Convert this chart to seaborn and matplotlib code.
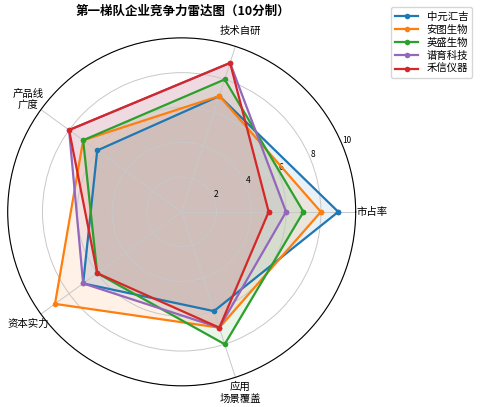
import numpy as np
import pandas as pd
import seaborn as sns
import matplotlib
matplotlib.use("Agg")
import matplotlib.pyplot as plt

# Data
dimensions = ["市占率", "技术自研", "产品线\n广度", "资本实力", "应用\n场景覆盖"]
companies = ["中元汇吉", "安图生物", "英盛生物", "谱育科技", "禾信仪器"]
zhongyuan = [9, 7, 6, 7, 6]
antu = [8, 7, 7, 9, 7]
yingsheng = [7, 8, 7, 6, 8]
puyu = [6, 9, 8, 7, 7]
hexin = [5, 9, 8, 6, 7]
r_ticks = [2, 4, 6, 8, 10]

scores = [zhongyuan, antu, yingsheng, puyu, hexin]

plt.rcParams['font.family'] = ['Noto Sans CJK SC', 'DejaVu Sans']
plt.rcParams['axes.unicode_minus'] = False

tab = sns.color_palette("tab10")
palette = [tab[0], tab[1], tab[2], tab[4], tab[3]]

angles = np.linspace(0, 2 * np.pi, len(dimensions), endpoint=False)
closed_angles = np.append(angles, 2 * np.pi)

fig = plt.figure(figsize=(4.8, 4.07), dpi=100)
ax = fig.add_axes([0.016, 0.052, 0.725, 0.855], projection="polar")

for name, vals, color in zip(companies, scores, palette):
    closed_vals = vals + vals[:1]
    df = pd.DataFrame({"angle": closed_angles, "score": closed_vals})
    sns.lineplot(data=df, x="angle", y="score", ax=ax, sort=False,
                 color=color, linewidth=1.6, marker="o", markersize=4,
                 markeredgewidth=0, label=name)
    ax.fill(closed_angles, closed_vals, color=color, alpha=0.1)

ax.set_xticks(angles)
ax.set_xticklabels(dimensions, fontsize=7.5)
ax.tick_params(axis="x", pad=1)
ax.set_ylim(0, 10)
ax.set_yticks(r_ticks)
ax.set_yticklabels([str(t) for t in r_ticks], fontsize=6)
ax.set_xlabel("")
ax.set_ylabel("")
ax.grid(color="#c8c8c8", linewidth=0.7)

fig.text(0.38, 0.972, "第一梯队企业竞争力雷达图（10分制）", ha="center", va="center",
         fontsize=9, fontweight="bold")

ax.legend(loc="upper right", bbox_to_anchor=(0.995, 0.995),
          bbox_transform=fig.transFigure, fontsize=7.5, labelspacing=0.3,
          handlelength=2.2, frameon=True)

fig.savefig("out.png", dpi=100)
